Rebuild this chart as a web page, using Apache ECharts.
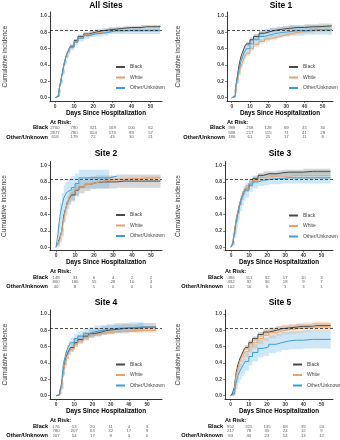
<!DOCTYPE html>
<html>
<head>
<meta charset="utf-8">
<script src="https://cdn.jsdelivr.net/npm/echarts@6/dist/echarts.min.js"></script>
<style>
  html, body { margin: 0; padding: 0; background: #fff; }
  #chart { width: 340px; height: 440px; }
</style>
</head>
<body>
<div id="chart"></div>
<script>
// days shared by every curve (step points)
const days = [0, 1, 2, 3, 4, 5, 6, 7, 8, 10, 12, 15, 18, 21, 25, 28, 32, 36, 40, 45, 48, 55]
const groups = ['Black', 'White', 'Other/Unknown']
const riskDays = [0, 10, 20, 30, 40, 50]
const refLine = 0.83
const yTicks = [0, 0.2, 0.4, 0.6, 0.8, 1.0]

// All Sites
const allBlack = [0, .02, .08, .20, .32, .44, .52, .58, .63, .70, .75, .78, .80, .82, .83, .84, .85, .86, .86, .87, .87, .88]
const allBlackLo = [0, .01, .07, .18, .30, .42, .50, .56, .61, .68, .73, .76, .78, .80, .81, .82, .83, .84, .84, .85, .85, .86]
const allBlackHi = [0, .03, .09, .22, .34, .46, .54, .60, .65, .72, .77, .80, .82, .84, .85, .86, .87, .88, .88, .89, .89, .90]
const allWhite = [0, .02, .08, .19, .31, .43, .51, .57, .62, .69, .74, .77, .79, .80, .81, .82, .82, .83, .83, .83, .83, .83]
const allWhiteLo = [0, .01, .07, .17, .29, .41, .49, .55, .60, .67, .72, .75, .77, .78, .79, .80, .80, .81, .81, .81, .81, .81]
const allWhiteHi = [0, .03, .09, .21, .33, .45, .53, .59, .64, .71, .76, .79, .81, .82, .83, .84, .84, .85, .85, .85, .85, .85]
const allOther = [0, .02, .08, .20, .32, .44, .52, .57, .62, .68, .73, .76, .78, .79, .80, .82, .82, .82, .82, .82, .82, .82]
const allOtherLo = [0, 0, .05, .16, .28, .40, .48, .53, .58, .64, .69, .72, .74, .75, .76, .78, .78, .78, .78, .78, .78, .78]
const allOtherHi = [0, .04, .11, .24, .36, .48, .56, .61, .66, .72, .77, .80, .82, .83, .84, .86, .86, .86, .86, .86, .86, .86]
const riskAll = [[2760, 780, 321, 169, 100, 62], [2877, 780, 304, 173, 89, 57], [618, 179, 72, 43, 30, 21]]

// Site 1
const s1Black = [0, .02, .10, .25, .40, .50, .56, .62, .66, .71, .75, .79, .81, .83, .84, .85, .86, .86, .87, .87, .88, .88]
const s1BlackLo = [0, .01, .08, .22, .37, .47, .53, .59, .63, .68, .72, .76, .78, .80, .81, .82, .83, .83, .84, .84, .85, .85]
const s1BlackHi = [0, .03, .12, .28, .43, .53, .59, .65, .69, .74, .78, .82, .84, .86, .87, .88, .89, .89, .90, .90, .91, .91]
const s1White = [0, .01, .08, .20, .30, .38, .44, .50, .54, .60, .65, .69, .72, .74, .76, .78, .80, .81, .82, .83, .83, .84]
const s1WhiteLo = [0, 0, .06, .17, .27, .35, .41, .47, .51, .57, .62, .66, .69, .71, .73, .75, .77, .78, .79, .80, .80, .81]
const s1WhiteHi = [0, .02, .10, .23, .33, .41, .47, .53, .57, .63, .68, .72, .75, .77, .79, .81, .83, .84, .85, .86, .86, .87]
const s1Other = [0, .02, .10, .24, .35, .44, .50, .56, .60, .66, .71, .75, .77, .79, .80, .81, .82, .82, .83, .83, .83, .83]
const s1OtherLo = [0, 0, .06, .18, .29, .38, .44, .50, .54, .60, .65, .69, .71, .73, .74, .75, .76, .76, .77, .77, .77, .77]
const s1OtherHi = [0, .04, .14, .30, .41, .50, .56, .62, .66, .72, .77, .81, .83, .85, .86, .87, .88, .88, .89, .89, .89, .89]
const riskS1 = [[988, 258, 128, 69, 45, 30], [588, 217, 115, 71, 41, 28], [186, 61, 25, 17, 11, 8]]

// Site 2
const s2Black = [0, .05, .12, .20, .38, .47, .55, .60, .64, .70, .74, .77, .79, .80, .80, .80, .81, .81, .81, .81, .81, .81]
const s2BlackLo = [0, .01, .06, .13, .30, .39, .47, .52, .56, .62, .66, .69, .71, .72, .72, .72, .73, .73, .73, .73, .73, .73]
const s2BlackHi = [0, .09, .18, .27, .46, .55, .63, .68, .72, .78, .82, .85, .87, .88, .88, .88, .89, .89, .89, .89, .89, .89]
const s2White = [0, .04, .10, .20, .34, .47, .55, .61, .66, .71, .74, .77, .79, .81, .82, .83, .83, .84, .84, .85, .85, .85]
const s2WhiteLo = [0, .03, .08, .18, .32, .45, .53, .59, .64, .69, .72, .75, .77, .79, .80, .81, .81, .82, .82, .83, .83, .83]
const s2WhiteHi = [0, .05, .12, .22, .36, .49, .57, .63, .68, .73, .76, .79, .81, .83, .84, .85, .85, .86, .86, .87, .87, .87]
const s2Other = [0, .17, .38, .50, .60, .65, .68, .70, .73, .78, .85, .85, .85, .85, .85, .87, null, null, null, null, null, null]
const s2OtherLo = [0, .05, .22, .34, .44, .49, .52, .55, .58, .63, .72, .72, .72, .72, .72, .72, null, null, null, null, null, null]
const s2OtherHi = [0, .29, .54, .66, .76, .80, .83, .85, .87, .90, .95, .95, .95, .95, .95, .95, null, null, null, null, null, null]
const riskS2 = [[148, 33, 6, 4, 2, 2], [860, 186, 55, 28, 10, 4], [40, 8, 1, 0, 0, 0]]

// Site 3
const s3Black = [0, .05, .20, .35, .45, .55, .62, .68, .72, .78, .84, .88, .90, .90, .91, .92, .92, .92, .93, .93, .93, .93]
const s3BlackLo = [0, .03, .16, .31, .41, .51, .58, .64, .68, .74, .81, .85, .87, .87, .88, .89, .89, .89, .90, .90, .90, .90]
const s3BlackHi = [0, .07, .24, .39, .49, .59, .66, .72, .76, .82, .87, .91, .93, .93, .94, .95, .95, .95, .96, .96, .96, .96]
const s3White = [0, .06, .22, .36, .46, .55, .62, .68, .72, .78, .82, .85, .86, .87, .87, .87, .88, .88, .88, .88, .88, .88]
const s3WhiteLo = [0, .04, .18, .32, .42, .51, .58, .64, .68, .74, .78, .81, .82, .83, .83, .83, .84, .84, .84, .84, .84, .84]
const s3WhiteHi = [0, .08, .26, .40, .50, .59, .66, .72, .76, .82, .86, .89, .90, .91, .91, .91, .92, .92, .92, .92, .92, .92]
const s3Other = [0, .04, .18, .32, .43, .53, .60, .66, .70, .76, .80, .82, .83, .84, .84, .85, .85, .85, .85, .85, .85, .85]
const s3OtherLo = [0, .01, .11, .24, .34, .44, .51, .57, .61, .68, .72, .75, .76, .77, .77, .78, .78, .78, .78, .78, .78, .78]
const s3OtherHi = [0, .07, .25, .40, .52, .62, .69, .75, .79, .84, .88, .89, .90, .91, .91, .92, .92, .92, .92, .92, .92, .92]
const riskS3 = [[496, 111, 32, 17, 10, 3], [432, 92, 36, 18, 9, 7], [102, 16, 6, 3, 3, 1]]

// Site 4
const s4Black = [0, .01, .04, .12, .30, .42, .50, .55, .59, .65, .69, .73, .76, .78, .80, .81, .82, .83, .83, .84, .84, .84]
const s4BlackLo = [0, 0, .02, .08, .25, .37, .45, .50, .54, .60, .64, .68, .71, .73, .75, .76, .77, .78, .78, .79, .79, .79]
const s4BlackHi = [0, .02, .06, .16, .35, .47, .55, .60, .64, .70, .74, .78, .81, .83, .85, .86, .87, .88, .88, .89, .89, .89]
const s4White = [0, .01, .03, .10, .28, .40, .48, .53, .57, .63, .67, .71, .74, .76, .77, .78, .79, .79, .80, .80, .80, .80]
const s4WhiteLo = [0, 0, .02, .08, .25, .37, .45, .50, .54, .60, .64, .68, .71, .73, .74, .75, .76, .76, .77, .77, .77, .77]
const s4WhiteHi = [0, .02, .04, .12, .31, .43, .51, .56, .60, .66, .70, .74, .77, .79, .80, .81, .82, .82, .83, .83, .83, .83]
const s4Other = [0, .01, .05, .15, .38, .48, .56, .61, .65, .70, .73, .76, .78, .80, .81, .82, .83, .83, .84, .84, .84, null]
const s4OtherLo = [0, 0, .02, .10, .32, .42, .50, .55, .59, .64, .67, .70, .72, .74, .75, .76, .77, .77, .78, .78, .78, null]
const s4OtherHi = [0, .02, .08, .20, .44, .54, .62, .67, .71, .76, .79, .82, .84, .86, .87, .88, .89, .89, .90, .90, .90, null]
const riskS4 = [[176, 53, 20, 11, 4, 3], [780, 207, 63, 32, 17, 9], [207, 54, 17, 9, 3, 0]]

// Site 5
const s5Black = [0, .03, .10, .28, .38, .45, .50, .55, .59, .65, .70, .75, .78, .80, .82, .83, .84, .85, .85, .86, .86, .86]
const s5BlackLo = [0, .02, .08, .25, .35, .42, .47, .52, .56, .62, .67, .72, .75, .77, .79, .80, .81, .82, .82, .83, .83, .83]
const s5BlackHi = [0, .04, .12, .31, .41, .48, .53, .58, .62, .68, .73, .78, .81, .83, .85, .86, .87, .88, .88, .89, .89, .89]
const s5White = [0, .02, .07, .25, .33, .42, .47, .50, .54, .60, .65, .70, .74, .77, .79, .81, .82, .83, .84, .85, .85, .85]
const s5WhiteLo = [0, 0, .04, .19, .27, .35, .40, .43, .47, .53, .58, .63, .67, .70, .73, .75, .76, .77, .78, .79, .79, .79]
const s5WhiteHi = [0, .04, .10, .31, .39, .49, .54, .57, .61, .67, .72, .77, .81, .84, .85, .87, .88, .89, .90, .91, .91, .91]
const s5Other = [0, .02, .05, .15, .25, .30, .34, .38, .42, .48, .53, .58, .60, .63, .65, .67, .68, .68, .69, .69, .69, .69]
const s5OtherLo = [0, 0, .01, .08, .16, .20, .24, .27, .31, .37, .42, .47, .49, .52, .54, .56, .57, .57, .58, .58, .58, .58]
const s5OtherHi = [0, .05, .10, .23, .34, .40, .44, .49, .53, .59, .64, .69, .71, .74, .76, .78, .79, .79, .80, .80, .80, .80]
const riskS5 = [[952, 325, 135, 68, 39, 24], [217, 78, 35, 24, 12, 9], [83, 40, 23, 14, 13, 12]]

const panels = [
  { title: 'All Sites', est: [allBlack, allWhite, allOther], lo: [allBlackLo, allWhiteLo, allOtherLo], hi: [allBlackHi, allWhiteHi, allOtherHi], risk: riskAll },
  { title: 'Site 1', est: [s1Black, s1White, s1Other], lo: [s1BlackLo, s1WhiteLo, s1OtherLo], hi: [s1BlackHi, s1WhiteHi, s1OtherHi], risk: riskS1 },
  { title: 'Site 2', est: [s2Black, s2White, s2Other], lo: [s2BlackLo, s2WhiteLo, s2OtherLo], hi: [s2BlackHi, s2WhiteHi, s2OtherHi], risk: riskS2 },
  { title: 'Site 3', est: [s3Black, s3White, s3Other], lo: [s3BlackLo, s3WhiteLo, s3OtherLo], hi: [s3BlackHi, s3WhiteHi, s3OtherHi], risk: riskS3 },
  { title: 'Site 4', est: [s4Black, s4White, s4Other], lo: [s4BlackLo, s4WhiteLo, s4OtherLo], hi: [s4BlackHi, s4WhiteHi, s4OtherHi], risk: riskS4 },
  { title: 'Site 5', est: [s5Black, s5White, s5Other], lo: [s5BlackLo, s5WhiteLo, s5OtherLo], hi: [s5BlackHi, s5WhiteHi, s5OtherHi], risk: riskS5 }
]

// layout of each panel, in pixels
const layout = [
  { left: 50, top: 12, width: 112, xMin: -2.6, xMax: 56, yGap: 41, tableTop: 125.6, legLeft: 111, legTop: 58.5, titleX: 106, titleY: 5.5, riskY: 122.7 },
  { left: 227, top: 12, width: 106, xMin: -2.6, xMax: 55.7, yGap: 45.5, tableTop: 125.6, legLeft: 284, legTop: 58.5, titleX: 281, titleY: 5.5, riskY: 122.7 },
  { left: 50, top: 161.5, width: 112, xMin: -3.2, xMax: 55.8, yGap: 42, tableTop: 275, legLeft: 111, legTop: 206.5, titleX: 106, titleY: 153.5, riskY: 271.5 },
  { left: 225, top: 161.5, width: 108, xMin: -3.3, xMax: 56.4, yGap: 43.5, tableTop: 275, legLeft: 284, legTop: 207, titleX: 280, titleY: 153.5, riskY: 271.5 },
  { left: 50, top: 310, width: 112, xMin: -3.3, xMax: 58.2, yGap: 41, tableTop: 424, legLeft: 111, legTop: 356, titleX: 106, titleY: 303, riskY: 420.5 },
  { left: 225, top: 310, width: 108, xMin: -3.1, xMax: 56.3, yGap: 43.5, tableTop: 424, legLeft: 288, legTop: 356, titleX: 280, titleY: 303, riskY: 420.5 }
]

const FONT = '"Liberation Sans", Arial, sans-serif'
const lineColors = ['#4a4a4a', '#e8a36c', '#3b9fd5']
const bandColors = ['rgba(110,110,110,0.28)', 'rgba(240,165,110,0.30)', 'rgba(100,180,228,0.32)']

// step-shaped confidence band, drawn through the axis scales
function bandRenderer (lo, hi) {
  return function (params, api) {
    let n = -1
    hi.forEach((v, j) => { if (v != null) n = j })
    const pts = []
    for (let j = 0; j < n; j++) {
      pts.push(api.coord([days[j], hi[j]]), api.coord([days[j + 1], hi[j]]))
    }
    pts.push(api.coord([days[n], hi[n]]), api.coord([days[n], lo[n]]))
    for (let j = n - 1; j >= 0; j--) {
      pts.push(api.coord([days[j + 1], lo[j]]), api.coord([days[j], lo[j]]))
    }
    return { type: 'polygon', shape: { points: pts }, style: { fill: api.visual('color') } }
  }
}

const grid = []
const xAxis = []
const yAxis = []
const series = []
const legend = []
const graphic = []

panels.forEach((p, i) => {
  const L = layout[i]
  const pg = 2 * i
  const tg = 2 * i + 1
  grid.push({ left: L.left, top: L.top, width: L.width, height: 89 })
  grid.push({ left: L.left, top: L.tableTop, width: L.width, height: 14 })

  xAxis.push({
    type: 'value', gridIndex: pg, min: L.xMin, max: L.xMax,
    name: 'Days Since Hospitalization', nameLocation: 'middle', nameGap: 9,
    nameTextStyle: { fontSize: 6.3, fontWeight: 'bold', color: '#000', fontFamily: FONT },
    axisLine: { onZero: false, lineStyle: { color: '#000', width: 0.8 } },
    axisTick: { customValues: riskDays, length: 2, lineStyle: { color: '#333', width: 0.6 } },
    axisLabel: { customValues: riskDays, fontSize: 4.8, fontWeight: 'bold', color: '#333', margin: 3, fontFamily: FONT },
    splitLine: { show: false }
  })
  yAxis.push({
    type: 'value', gridIndex: pg, min: -0.04, max: 1.05,
    name: 'Cumulative incidence', nameLocation: 'middle', nameGap: L.yGap,
    nameTextStyle: { fontSize: 6.5, color: '#333', fontFamily: FONT },
    axisLine: { show: true, onZero: false, lineStyle: { color: '#000', width: 0.8 } },
    axisTick: { show: true, customValues: yTicks, length: 2, lineStyle: { color: '#333', width: 0.6 } },
    axisLabel: { customValues: yTicks, formatter: v => v.toFixed(1), fontSize: 4.8, fontWeight: 'bold', color: '#333', margin: 3, fontFamily: FONT },
    splitLine: { show: false }
  })
  // at-risk table axes
  xAxis.push({ type: 'value', gridIndex: tg, min: L.xMin, max: L.xMax, show: false })
  yAxis.push({
    type: 'category', gridIndex: tg, data: groups, inverse: true,
    axisLine: { show: false }, axisTick: { show: false },
    axisLabel: { fontSize: 5.6, fontWeight: 'bold', color: '#000', margin: 2, fontFamily: FONT }
  })

  groups.forEach((g, k) => {
    series.push({
      type: 'custom', name: g + ' band', xAxisIndex: pg, yAxisIndex: pg, silent: true, z: 1,
      itemStyle: { color: bandColors[k] },
      renderItem: bandRenderer(p.lo[k], p.hi[k]),
      data: [[0, 0]]
    })
  })
  groups.forEach((g, k) => {
    const s = {
      type: 'line', name: g, xAxisIndex: pg, yAxisIndex: pg, step: 'end',
      symbol: 'none', z: 3, color: lineColors[k], lineStyle: { width: 1, color: lineColors[k] },
      data: days.map((d, j) => [d, p.est[k][j]])
    }
    if (k === 2) {
      s.markLine = {
        silent: true, symbol: 'none', label: { show: false },
        lineStyle: { color: '#222', type: [3, 2], width: 0.8 },
        data: [{ yAxis: refLine }]
      }
    }
    series.push(s)
  })

  // at-risk numbers
  const tableData = []
  groups.forEach((g, k) => {
    riskDays.forEach((d, j) => tableData.push([d, g, p.risk[k][j]]))
  })
  series.push({
    type: 'scatter', xAxisIndex: tg, yAxisIndex: tg, symbolSize: 1, silent: true,
    itemStyle: { color: 'rgba(0,0,0,0)' },
    label: { show: true, position: 'inside', formatter: q => q.value[2], fontSize: 4.3, color: '#333', fontFamily: FONT },
    data: tableData
  })

  legend.push({
    data: groups, orient: 'vertical', left: L.legLeft, top: L.legTop,
    itemWidth: 9, itemHeight: 2, itemGap: 3.5, icon: 'rect', selectedMode: false,
    textStyle: { fontSize: 5, color: '#444', lineHeight: 7, fontFamily: FONT }
  })

  graphic.push({
    type: 'text', x: L.titleX, y: L.titleY,
    style: { text: p.title, fontSize: 8.5, fontWeight: 'bold', fill: '#000', align: 'center', verticalAlign: 'middle', fontFamily: FONT }
  })
  graphic.push({
    type: 'text', x: L.left, y: L.riskY,
    style: { text: 'At Risk:', fontSize: 5.6, fontWeight: 'bold', fill: '#000', align: 'left', verticalAlign: 'middle', fontFamily: FONT }
  })
})

const option = {
  animation: false,
  backgroundColor: '#fff',
  textStyle: { fontFamily: FONT },
  grid,
  xAxis,
  yAxis,
  series,
  legend,
  graphic
}

const myChart = echarts.init(document.getElementById('chart'))
myChart.setOption(option)
</script>
</body>
</html>
